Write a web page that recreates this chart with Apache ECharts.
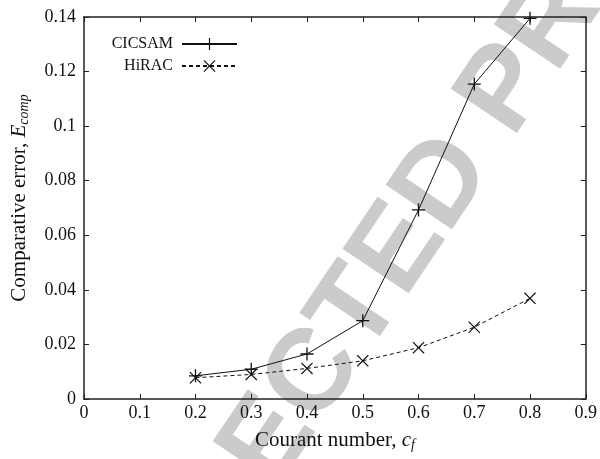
<!DOCTYPE html>
<html>
<head>
<meta charset="utf-8">
<script src="https://cdn.jsdelivr.net/npm/echarts@6/dist/echarts.min.js"></script>
<style>
  html,body{margin:0;padding:0;background:#fff;}
  #chart{width:600px;height:459px;}
</style>
</head>
<body>
<div id="chart"></div>
<script>
// courant numbers
var courant = [0.2, 0.3, 0.4, 0.5, 0.6, 0.7, 0.8];
var cicsam = [0.0085, 0.0109, 0.0165, 0.0287, 0.0693, 0.1154, 0.1395];
var hirac = [0.0078, 0.0090, 0.0112, 0.0140, 0.0188, 0.0263, 0.0369];
var seriesNames = ['CICSAM', 'HiRAC'];

var plusPath = 'path://M4.5,0H5.5V4.5H10V5.5H5.5V10H4.5V5.5H0V4.5H4.5Z';
var crossPath = 'path://M0.7,0L5,4.3L9.3,0L10,0.7L5.7,5L10,9.3L9.3,10L5,5.7L0.7,10L0,9.3L4.3,5L0,0.7Z';

function pairs(xs, ys){
    var out = [];
    for(var i = 0; i < xs.length; i++){
        out.push([xs[i], ys[i]]);
    }
    return out;
}

var axisCol = '#222';
var serif = 'Liberation Serif';
var nameRich = {
    n: { fontFamily: serif, fontSize: 21, color: '#111' },
    i: { fontFamily: serif, fontSize: 21, fontStyle: 'italic', color: '#111' },
    s: { fontFamily: serif, fontSize: 14, fontStyle: 'italic', color: '#111', padding: [9, 0, 0, 0] }
};

var chart = echarts.init(document.getElementById('chart'));
var option = {
    animation: false,
    backgroundColor: '#fff',
    textStyle: { fontFamily: serif },
    grid: { left: 84, right: 9, top: 17, bottom: 60, containLabel: false },
    legend: [{
        data: [seriesNames[0]],
        right: 357, top: 31,
        align: 'right',
        itemWidth: 55, itemHeight: 15,
        textStyle: { fontFamily: serif, fontSize: 16, color: '#111', padding: [0, 4, 0, 0] }
    }, {
        data: [seriesNames[1]],
        right: 357, top: 53,
        align: 'right',
        itemWidth: 55, itemHeight: 15,
        textStyle: { fontFamily: serif, fontSize: 16, color: '#111', padding: [0, 4, 0, 0] }
    }],
    xAxis: [{
        type: 'value', min: 0, max: 0.9, interval: 0.1,
        name: '{n|Courant number, }{i|c}{s|f}',
        nameLocation: 'middle', nameGap: 30,
        nameTextStyle: { rich: nameRich },
        axisLine: { onZero: false, lineStyle: { color: axisCol, width: 1.5 } },
        axisTick: { inside: true, length: 5, lineStyle: { color: axisCol } },
        axisLabel: { fontFamily: serif, fontSize: 18, color: '#111', margin: 5 },
        splitLine: { show: false }
    }, {
        type: 'value', min: 0, max: 0.9, interval: 0.1, position: 'top',
        axisLine: { onZero: false, lineStyle: { color: axisCol, width: 1.5 } },
        axisTick: { inside: true, length: 5, lineStyle: { color: axisCol } },
        axisLabel: { show: false },
        splitLine: { show: false }
    }],
    yAxis: [{
        type: 'value', min: 0, max: 0.14, interval: 0.02,
        name: '{n|Comparative error, }{i|E}{s|comp}',
        nameLocation: 'middle', nameGap: 53, nameRotate: 90,
        nameTextStyle: { rich: nameRich, padding: [0, 0, 0, 20] },
        axisLine: { onZero: false, lineStyle: { color: axisCol, width: 1.5 } },
        axisTick: { inside: true, length: 5, lineStyle: { color: axisCol } },
        axisLabel: { fontFamily: serif, fontSize: 18, color: '#111', margin: 8 },
        splitLine: { show: false }
    }, {
        type: 'value', min: 0, max: 0.14, interval: 0.02, position: 'right',
        axisLine: { onZero: false, lineStyle: { color: axisCol, width: 1.5 } },
        axisTick: { inside: true, length: 5, lineStyle: { color: axisCol } },
        axisLabel: { show: false },
        splitLine: { show: false }
    }],
    graphic: [{
        type: 'text',
        x: 340, y: 338,
        rotation: 56 * Math.PI / 180,
        z: -10,
        silent: true,
        style: {
            text: 'UNCORRECTED PROOF',
            fontFamily: 'Liberation Sans',
            fontWeight: 'bold',
            fontSize: 116,
            fill: '#cbcbcb',
            align: 'center',
            verticalAlign: 'middle'
        }
    }],
    series: [{
        name: seriesNames[0],
        type: 'line',
        data: pairs(courant, cicsam),
        symbol: plusPath,
        symbolSize: 13,
        itemStyle: { color: '#111' },
        lineStyle: { color: '#111', width: 1 },
        z: 5
    }, {
        name: seriesNames[1],
        type: 'line',
        data: pairs(courant, hirac),
        symbol: crossPath,
        symbolSize: 12,
        itemStyle: { color: '#111' },
        lineStyle: { color: '#111', width: 1, type: [4, 3] },
        z: 5
    }]
};
chart.setOption(option);
</script>
</body>
</html>
